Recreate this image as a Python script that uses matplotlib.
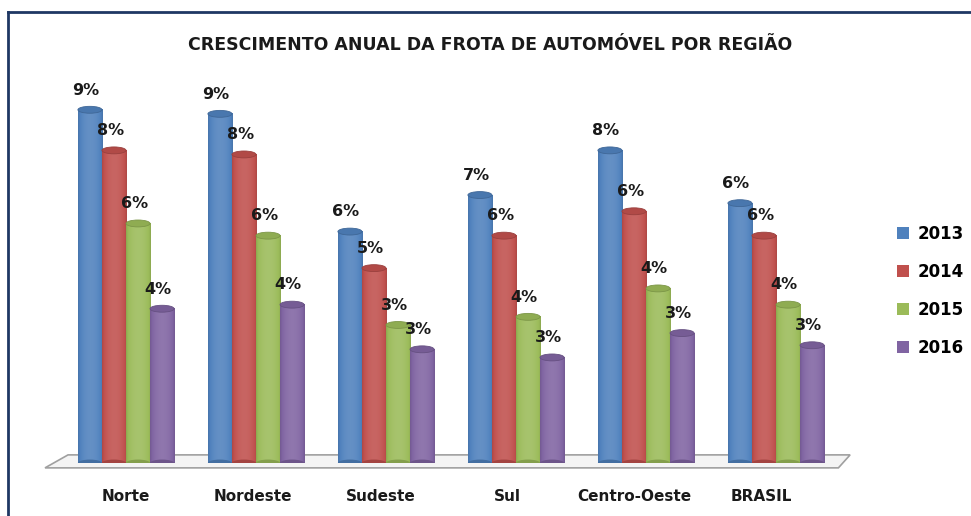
import numpy as np
import matplotlib.pyplot as plt
from matplotlib.patches import Ellipse, Polygon, Patch
from matplotlib.colors import to_rgb
from matplotlib.lines import Line2D

regioes = ["Norte", "Nordeste", "Sudeste", "Sul", "Centro-Oeste", "BRASIL"]
anos = ["2013", "2014", "2015", "2016"]
v2013 = [8.7, 8.6, 5.7, 6.6, 7.7, 6.4]
v2014 = [7.7, 7.6, 4.8, 5.6, 6.2, 5.6]
v2015 = [5.9, 5.6, 3.4, 3.6, 4.3, 3.9]
v2016 = [3.8, 3.9, 2.8, 2.6, 3.2, 2.9]
series = [v2013, v2014, v2015, v2016]
cores = ["#4F81BD", "#C0504D", "#9BBB59", "#8064A2"]

W, H = 971, 516
fig = plt.figure(figsize=(W / 100, H / 100), dpi=100)
fig.patch.set_facecolor("white")

# plot area placed so the bars sit where the reference has them
ax = fig.add_axes([61 / W, (H - 463) / H, 780 / W, 385.7 / H])
ax.set_xlim(-0.5, 5.5)
ax.set_ylim(0, 9.5)
ax.patch.set_alpha(0)
for s in ax.spines.values():
    s.set_visible(False)
ax.tick_params(length=0)
ax.set_yticks([])

# floor
floor = Polygon([(-0.446, 0.2), (5.57, 0.2), (5.48, -0.12), (-0.623, -0.12)],
                closed=True, facecolor="#f4f4f4", edgecolor="#a0a0a0",
                lw=1.2, clip_on=False, zorder=1)
ax.add_patch(floor)

bw = 0.185
eh = 0.17  # ellipse height in data units
x = np.arange(len(regioes))


def shade(c, f):
    r = np.array(to_rgb(c))
    if f >= 1:
        return r + (1 - r) * (f - 1)
    return r * f


for j, (vals, c) in enumerate(zip(series, cores)):
    xs = x + (j - 1.5) * bw
    for xc, v in zip(xs, vals):
        x0, x1 = xc - bw / 2, xc + bw / 2
        # cylinder body with horizontal gradient
        t = np.linspace(0, 1, 64)
        f = 0.75 + 0.45 * np.sin(np.pi * (t * 0.9 + 0.05)) ** 0.6
        f = np.where(f > 1, 1 + (f - 1) * 0.6, f)
        grad = np.array([shade(c, ff) for ff in f])[None, :, :]
        ax.imshow(grad, extent=(x0, x1, 0, v), aspect="auto", zorder=2 + j,
                  interpolation="bilinear")
        ax.add_patch(Ellipse((xc, 0), bw, eh, facecolor=shade(c, 0.85),
                             edgecolor="none", zorder=2 + j))
        ax.add_patch(Ellipse((xc, v), bw, eh, facecolor=shade(c, 0.92),
                             edgecolor=shade(c, 0.8), lw=0.6, zorder=2.5 + j))
        ax.text(xc - 0.03, v + 0.3, f"{round(v):.0f}%", ha="center", va="bottom",
                fontsize=11.5, fontweight="bold", color="#1a1a1a", zorder=10)

ax.set_xticks(x - 0.022 * x)
ax.set_xticklabels(regioes, fontsize=11, fontweight="bold", color="#1a1a1a")
ax.tick_params(axis="x", pad=19)

fig.text(0.505, 0.913, "CRESCIMENTO ANUAL DA FROTA DE AUTOMÓVEL POR REGIÃO",
         ha="center", va="center", fontsize=12.5, fontweight="bold",
         color="#1a1a1a")

handles = [Patch(facecolor=c, edgecolor="none") for c in cores]
leg = fig.legend(handles, anos, loc="center left", bbox_to_anchor=(0.908, 0.436),
                 frameon=False, prop={"size": 12, "weight": "bold"},
                 handlelength=0.75, handleheight=0.75, handletextpad=0.5,
                 labelspacing=1.2)

# outer frame lines
fig.add_artist(Line2D([8 / W, 8 / W], [0, 1 - 12 / H], color="#1F3864", lw=2,
                      transform=fig.transFigure))
fig.add_artist(Line2D([8 / W, 1], [1 - 12 / H, 1 - 12 / H], color="#1F3864", lw=2,
                      transform=fig.transFigure))

fig.savefig("out.png", dpi=100)
